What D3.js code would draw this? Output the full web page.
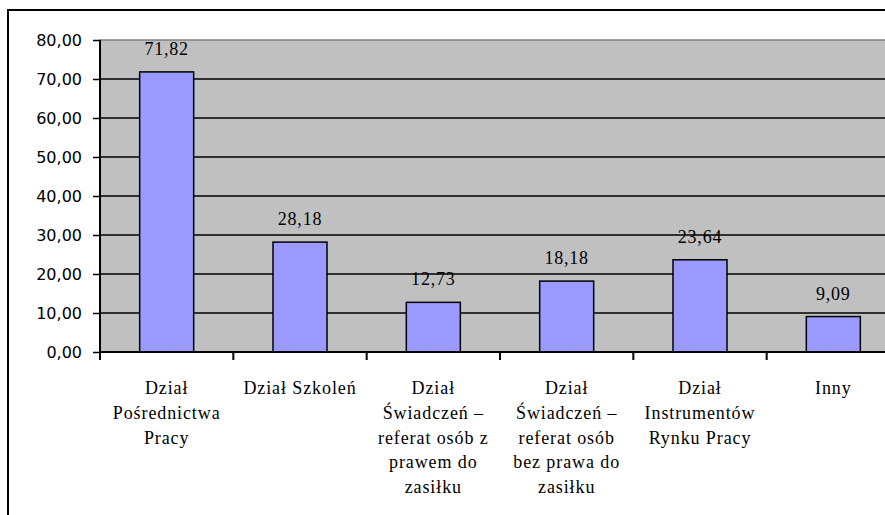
<!DOCTYPE html>
<html>
<head>
<meta charset="utf-8">
<script src="https://cdn.jsdelivr.net/npm/d3@7"></script>
<style>
  html, body { margin: 0; padding: 0; background: #fff; }
  svg { display: block; }
  .serif { font-family: 'Liberation Serif', 'Times New Roman'; }
  .sans { font-family: 'DejaVu Sans', Verdana; }
</style>
</head>
<body>
<svg id="chart" width="885" height="515"></svg>
<script>
const categories = [
  "Dział Pośrednictwa Pracy",
  "Dział Szkoleń",
  "Dział Świadczeń – referat osób z prawem do zasiłku",
  "Dział Świadczeń – referat osób bez prawa do zasiłku",
  "Dział Instrumentów Rynku Pracy",
  "Inny"
];
const categoryLines = [
  ["Dział", "Pośrednictwa", "Pracy"],
  ["Dział Szkoleń"],
  ["Dział", "Świadczeń –", "referat osób z", "prawem do", "zasiłku"],
  ["Dział", "Świadczeń –", "referat osób", "bez prawa do", "zasiłku"],
  ["Dział", "Instrumentów", "Rynku Pracy"],
  ["Inny"]
];
const values = [71.82, 28.18, 12.73, 18.18, 23.64, 9.09];
const yTicks = [0, 10, 20, 30, 40, 50, 60, 70, 80];

const fmt = v => v.toFixed(2).replace(".", ",");

const svg = d3.select("#chart");
const pLeft = 100, pRight = 900, pTop = 40, pBottom = 352;

const x = d3.scaleBand().domain(categories).range([pLeft, pRight]).paddingInner(0.595).paddingOuter(0.2975);
const xEdges = d3.scaleBand().domain(categories).range([pLeft, pRight]).padding(0);
const y = d3.scaleLinear().domain([0, 80]).range([pBottom, pTop]);

// outer frame
svg.append("path").attr("d", `M8,520 L8,10 L890,10`).attr("fill", "none").attr("stroke", "#000").attr("stroke-width", 2);

// plot background
svg.append("rect").attr("x", pLeft).attr("y", pTop).attr("width", pRight - pLeft).attr("height", pBottom - pTop)
  .attr("fill", "#c0c0c0").attr("stroke", "#808080").attr("stroke-width", 1.5);

// gridlines
svg.append("g").selectAll("line").data(yTicks.filter(t => t > 0 && t < 80)).join("line")
  .attr("x1", pLeft).attr("x2", pRight).attr("y1", d => y(d)).attr("y2", d => y(d))
  .attr("stroke", "#000").attr("stroke-width", 1.5);

// y axis
const yAxis = d3.axisLeft(y).tickValues(yTicks).tickSize(7).tickPadding(11).tickFormat(fmt);
const gy = svg.append("g").attr("transform", `translate(${pLeft},0)`).call(yAxis);
gy.attr("font-family", null).attr("font-size", null);
gy.select(".domain").remove();
gy.selectAll(".tick line").attr("stroke", "#000").attr("stroke-width", 1.5);
gy.selectAll(".tick text").attr("class", "sans").style("font-size", "16px")
  .attr("fill", "#000").attr("dy", "0.35em");

// bars
svg.append("g").selectAll("rect").data(values).join("rect")
  .attr("x", (d, i) => x(categories[i]))
  .attr("width", x.bandwidth())
  .attr("y", d => y(d))
  .attr("height", d => y(0) - y(d))
  .attr("fill", "#9999ff").attr("stroke", "#000").attr("stroke-width", 1.5);

// axis lines
svg.append("line").attr("x1", pLeft).attr("x2", pLeft).attr("y1", pTop).attr("y2", pBottom + 8)
  .attr("stroke", "#000").attr("stroke-width", 2);
svg.append("line").attr("x1", pLeft).attr("x2", pRight).attr("y1", pBottom).attr("y2", pBottom)
  .attr("stroke", "#000").attr("stroke-width", 2);

// category ticks
svg.append("g").selectAll("line").data(categories).join("line")
  .attr("x1", d => xEdges(d)).attr("x2", d => xEdges(d))
  .attr("y1", pBottom).attr("y2", pBottom + 8)
  .attr("stroke", "#000").attr("stroke-width", 2);

// value labels
svg.append("g").selectAll("text").data(values).join("text")
  .attr("class", "serif")
  .attr("x", (d, i) => x(categories[i]) + x.bandwidth() / 2)
  .attr("y", d => y(d) - 17)
  .attr("text-anchor", "middle")
  .style("font-size", "18px").style("letter-spacing", "0.8px")
  .attr("fill", "#000")
  .text(d => fmt(d));

// category labels
const cl = svg.append("g");
categories.forEach((c, i) => {
  const t = cl.append("text")
    .attr("class", "serif")
    .attr("x", x(c) + x.bandwidth() / 2)
    .attr("y", 394)
    .attr("text-anchor", "middle")
    .style("font-size", "18px").style("letter-spacing", "0.9px")
    .attr("fill", "#000");
  categoryLines[i].forEach((ln, j) => {
    t.append("tspan").attr("x", x(c) + x.bandwidth() / 2).attr("y", 394 + j * 24.8).text(ln);
  });
});
</script>
</body>
</html>
